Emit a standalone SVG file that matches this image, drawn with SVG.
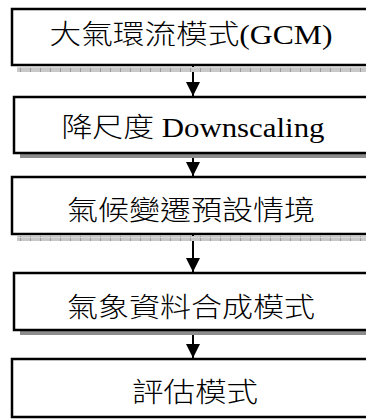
<svg xmlns="http://www.w3.org/2000/svg" width="366" height="419" viewBox="0 0 366 419">
<defs>
<pattern id="hatch" x="0" y="0" width="10" height="5" patternUnits="userSpaceOnUse">
<rect width="10" height="5" fill="#c8c8c8"/>
<rect x="0" y="0" width="1" height="5" fill="#9a9a9a"/>
<rect x="0" y="2" width="10" height="1" fill="#d8d8d8"/>
</pattern>
<marker id="arr" markerWidth="16" markerHeight="14" refX="14" refY="7" orient="auto" markerUnits="userSpaceOnUse">
<path d="M0,0 L14,7 L0,14 Z" fill="#000"/>
</marker>
</defs>
<style>
.box{fill:#fff;stroke:#000;stroke-width:2.5}
.hs{fill:url(#hatch)}
.ss{fill:#8c8c8c}
.t{font-family:"Liberation Serif","Noto Sans CJK TC",serif;font-size:27px;font-weight:400;fill:#000;text-anchor:middle}
.k{font-weight:300}
.c{stroke:#000;stroke-width:2;fill:none}
</style>
<g id="connectors">
<line class="c" x1="193" y1="66" x2="193" y2="96" marker-end="url(#arr)"/>
<line class="c" x1="193" y1="154" x2="193" y2="176" marker-end="url(#arr)"/>
<line class="c" x1="193" y1="235" x2="193" y2="272" marker-end="url(#arr)"/>
<line class="c" x1="193" y1="331" x2="193" y2="358" marker-end="url(#arr)"/>
</g>
<g id="n1">
<rect class="hs" x="17" y="67" width="360" height="5"/>
<rect class="box" x="12" y="9" width="370" height="56"/>
<text class="t" x="191" y="44" textLength="283" lengthAdjust="spacingAndGlyphs"><tspan class="k">大氣環流模式</tspan>(GCM)</text>
</g>
<g id="n2">
<rect class="ss" x="20" y="154" width="360" height="4"/>
<rect class="box" x="14" y="97" width="370" height="56"/>
<text class="t" x="193" y="137" textLength="263" lengthAdjust="spacingAndGlyphs"><tspan class="k">降尺度</tspan> Downscaling</text>
</g>
<g id="n3">
<rect class="hs" x="17" y="236" width="360" height="5"/>
<rect class="box" x="12" y="177" width="370" height="57"/>
<text class="t k" x="191" y="220" textLength="248" lengthAdjust="spacingAndGlyphs">氣候變遷預設情境</text>
</g>
<g id="n4">
<rect class="ss" x="20" y="331" width="360" height="4"/>
<rect class="box" x="14" y="273" width="370" height="57"/>
<text class="t k" x="191" y="317" textLength="248" lengthAdjust="spacingAndGlyphs">氣象資料合成模式</text>
</g>
<g id="n5">
<rect class="box" x="12" y="359" width="370" height="58"/>
<text class="t k" x="195" y="402" textLength="126" lengthAdjust="spacingAndGlyphs">評估模式</text>
</g>
</svg>
